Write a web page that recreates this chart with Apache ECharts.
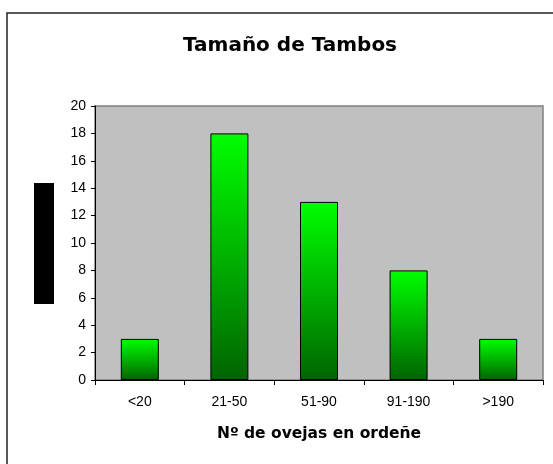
<!DOCTYPE html>
<html lang="es">
<head>
    <meta charset="UTF-8">
    <title>Tamaño de Tambos</title>
    <style>
        * { margin: 0; padding: 0; }
        body { background: #fff; }
        #main { width: 553px; height: 464px; }
    </style>
    <script src="https://cdn.jsdelivr.net/npm/echarts@6/dist/echarts.min.js"></script>
</head>
<body>
<div id="main"></div>
<script>
    // datos del grafico
    var categorias = ['<20', '21-50', '51-90', '91-190', '>190'];
    var tambos = [3, 18, 13, 8, 3];
    var yMin = 0, yMax = 20, yPaso = 2;

    var myChart = echarts.init(document.getElementById('main'));
    var fuente = 'Liberation Sans, Arial, sans-serif';

    var option = {
        animation: false,
        title: {
            text: 'Tamaño de Tambos',
            left: 285,
            textAlign: 'center',
            top: 31,
            textStyle: { fontFamily: 'DejaVu Sans', fontSize: 20, fontWeight: 'bold', color: '#000' }
        },
        grid: {
            left: 95, right: 10, top: 106, bottom: 84,
            show: true,
            backgroundColor: '#c0c0c0',
            borderColor: '#808080',
            borderWidth: 1.5
        },
        xAxis: {
            type: 'category',
            data: categorias,
            name: 'Nº de ovejas en ordeñe',
            nameLocation: 'middle',
            nameGap: 46,
            nameTextStyle: { fontFamily: 'DejaVu Sans', fontSize: 15.5, fontWeight: 'bold', color: '#000' },
            axisLine: { lineStyle: { color: '#000', width: 1 } },
            axisTick: { show: true, length: 5, lineStyle: { color: '#000' } },
            axisLabel: { fontFamily: fuente, fontSize: 14, color: '#000', margin: 15 }
        },
        yAxis: {
            type: 'value',
            min: yMin,
            max: yMax,
            interval: yPaso,
            axisLine: { show: true, lineStyle: { color: '#000', width: 1 } },
            axisTick: { show: true, length: 4, lineStyle: { color: '#000' } },
            splitLine: { show: false },
            axisLabel: { fontFamily: fuente, fontSize: 14, color: '#000', margin: 9 }
        },
        series: [{
            type: 'bar',
            data: tambos,
            barWidth: 38,
            itemStyle: {
                color: new echarts.graphic.LinearGradient(0, 0, 0, 1, [
                    { offset: 0, color: '#00ff00' },
                    { offset: 1, color: '#006400' }
                ]),
                borderColor: '#000',
                borderWidth: 1
            }
        }],
        graphic: [
            {
                type: 'rect',
                shape: { x: 7, y: 13, width: 560, height: 470 },
                style: { fill: 'none', stroke: '#222', lineWidth: 1.5 },
                z: -1
            },
            {
                type: 'rect',
                shape: { x: 34, y: 183, width: 20, height: 121 },
                style: { fill: '#000' }
            }
        ]
    };

    myChart.setOption(option);
</script>
</body>
</html>
